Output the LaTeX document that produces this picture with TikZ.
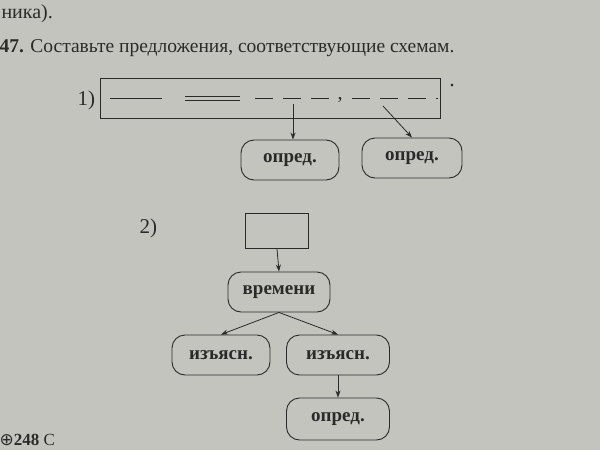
\documentclass[tikz,border=0pt]{standalone}
\usepackage{fontspec}
\setmainfont{Liberation Serif}
\newfontfamily\symf{DejaVu Sans}
\usetikzlibrary{arrows.meta}
\definecolor{pg}{HTML}{C4C4BE}
\definecolor{ink}{HTML}{2A2A2A}
\tikzset{
 oval/.style={draw=ink,line width=0.9pt,rounded corners=13pt,minimum width=98pt,minimum height=40pt,font=\fontsize{19}{19}\selectfont\bfseries,text=ink},
 arr/.style={draw=ink,line width=0.8pt,-{Stealth[length=7pt,width=5pt]}},
 txt/.style={text=ink,anchor=west},
}
\begin{document}
\begin{tikzpicture}[x=1pt,y=-1pt]
\fill[pg] (0,0) rectangle (600,450);
\useasboundingbox (0,0) rectangle (600,450);
\node[txt,font=\fontsize{20}{20}\selectfont] (t0) at (-2,14) {ника).};
\node[txt,font=\fontsize{19.5}{19.5}\selectfont] (t1) at (-4,48) {\textbf{47.} Составьте предложения, соответствующие схемам.};
\node[txt,font=\fontsize{21}{21}\selectfont] (n1) at (74,100) {1)};
\node[draw=ink,line width=0.9pt,minimum width=340pt,minimum height=40pt] (box) at (270,98) {};
\draw[ink,line width=1pt] (110,98) -- (162,98);
\draw[ink,line width=1pt] (185,96) -- (240,96) (185,100) -- (240,100);
\draw[ink,line width=1pt,dash pattern=on 18pt off 10pt] (255,98) -- (330,98);
\node[text=ink,font=\fontsize{20}{20}\selectfont] (cm) at (340,100) {,};
\draw[ink,line width=1pt,dash pattern=on 18pt off 10pt] (352,98) -- (438,98);
\node[text=ink,font=\fontsize{22}{22}\selectfont] (pt) at (452,86) {.};
\node[oval] (o1) at (290,160) {опред.};
\node[oval,minimum width=100pt] (o2) at (412,158) {опред.};
\coordinate (a1) at (293,104);
\coordinate (a2) at (383,106);
\draw[arr] (a1) -- (o1.north -| a1);
\draw[arr] (a2) -- (o2.north);
\node[txt,font=\fontsize{21}{21}\selectfont] (n2) at (136,228) {2)};
\node[draw=ink,line width=0.9pt,minimum width=63pt,minimum height=35pt] (sq) at (277,231) {};
\node[oval,minimum width=102pt] (v) at (279,292) {времени};
\node[oval] (i1) at (221,355) {изъясн.};
\node[oval,minimum width=103pt] (i2) at (338,355) {изъясн.};
\node[oval,minimum width=103pt,minimum height=42pt] (op) at (338,419) {опред.};
\draw[arr] (sq.south) -- (v.north);
\draw[arr] (v.south) -- (i1.north);
\draw[arr] (v.south) -- (i2.north);
\draw[arr] (i2.south) -- (op.north);
\node[txt,font=\fontsize{17}{17}\selectfont] (b) at (-4,440) {{\symf ⊕}\textbf{248} С};
\end{tikzpicture}
\end{document}
